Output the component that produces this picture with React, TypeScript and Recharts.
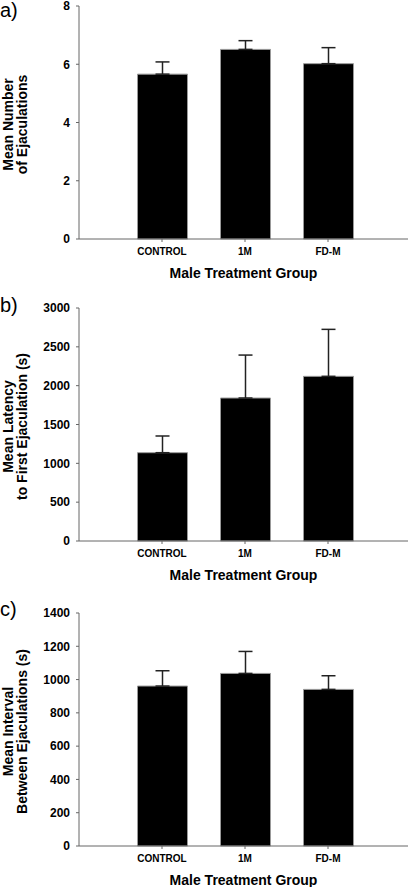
import { BarChart, Bar, XAxis, YAxis, ErrorBar } from "recharts";

const groups = ["CONTROL", "1M", "FD-M"];

// a) number of ejaculations
const ejacMean = [5.66, 6.51, 6.02];
const ejacErr = [0.42, 0.3, 0.55];
const ejacTicks = [0, 2, 4, 6, 8];

// b) latency to first ejaculation (s)
const latencyMean = [1137, 1841, 2120];
const latencyErr = [215, 553, 605];
const latencyTicks = [0, 500, 1000, 1500, 2000, 2500, 3000];

// c) interval between ejaculations (s)
const intervalMean = [961, 1037, 941];
const intervalErr = [92, 132, 82];
const intervalTicks = [0, 200, 400, 600, 800, 1000, 1200, 1400];

const FONT = "'Liberation Sans', Arial, sans-serif";
const AXIS = "#666";

const YLabel = ({ viewBox, lines }: any) => {
  const cy = viewBox.y + viewBox.height / 2 + 2;
  return (
    <g>
      {lines.map((t: string, i: number) => (
        <text
          key={i}
          x={13 + i * 14}
          y={cy}
          transform={`rotate(-90, ${13 + i * 14}, ${cy})`}
          textAnchor="middle"
          fontFamily={FONT}
          fontWeight="bold"
          fontSize={14}
          fill="#000"
        >
          {t}
        </text>
      ))}
    </g>
  );
};

const XLabel = ({ viewBox }: any) => (
  <text
    x={243.5}
    y={viewBox.y + 39}
    textAnchor="middle"
    fontFamily={FONT}
    fontWeight="bold"
    fontSize={14}
    fill="#000"
  >
    Male Treatment Group
  </text>
);

interface PanelProps {
  top: number;
  letter: string;
  letterTop: number;
  mean: number[];
  err: number[];
  ticks: number[];
  yLines: string[];
}

const Panel = ({ top, letter, letterTop, mean, err, ticks, yLines }: PanelProps) => {
  // only the upper half of the error bar is drawn
  const data = groups.map((g, i) => ({ name: g, value: mean[i], err: [0, err[i]] }));
  return (
    <>
      <div
        style={{
          position: "absolute",
          left: 0,
          top: letterTop,
          fontSize: 20,
          lineHeight: "20px",
          fontFamily: FONT,
        }}
      >
        {letter}
      </div>
      <div style={{ position: "absolute", left: 0, top }}>
        <BarChart
          width={413}
          height={284}
          data={data}
          barSize={50}
          margin={{ top: 6, right: 5, left: 19, bottom: 0 }}
        >
          <XAxis
            dataKey="name"
            height={45}
            padding={{ left: 41.5, right: 38.5 }}
            stroke={AXIS}
            tickSize={3}
            tickMargin={6}
            tick={{ fontSize: 10, fontWeight: "bold", fill: "#000", fontFamily: FONT }}
            label={<XLabel />}
          />
          <YAxis
            width={60}
            domain={[ticks[0], ticks[ticks.length - 1]]}
            ticks={ticks}
            interval={0}
            stroke={AXIS}
            tickSize={3}
            tickMargin={6}
            tick={{ fontSize: 12, fontWeight: "bold", fill: "#000", fontFamily: FONT }}
            label={<YLabel lines={yLines} />}
          />
          <Bar dataKey="value" fill="#000" stroke="#999" strokeWidth={1} isAnimationActive={false}>
            <ErrorBar dataKey="err" width={7} stroke="#222" strokeWidth={1.5} isAnimationActive={false} />
          </Bar>
        </BarChart>
      </div>
    </>
  );
};

export default function App() {
  return (
    <div
      style={{
        position: "absolute",
        left: 0,
        top: 0,
        width: 413,
        height: 887,
        background: "#fff",
        overflow: "hidden",
      }}
    >
      <Panel
        top={0}
        letter="a)"
        letterTop={0}
        mean={ejacMean}
        err={ejacErr}
        ticks={ejacTicks}
        yLines={["Mean Number", "of Ejaculations"]}
      />
      <Panel
        top={302}
        letter="b)"
        letterTop={295}
        mean={latencyMean}
        err={latencyErr}
        ticks={latencyTicks}
        yLines={["Mean Latency", "to First Ejaculation (s)"]}
      />
      <Panel
        top={607}
        letter="c)"
        letterTop={598.5}
        mean={intervalMean}
        err={intervalErr}
        ticks={intervalTicks}
        yLines={["Mean Interval", "Between Ejaculations (s)"]}
      />
    </div>
  );
}
